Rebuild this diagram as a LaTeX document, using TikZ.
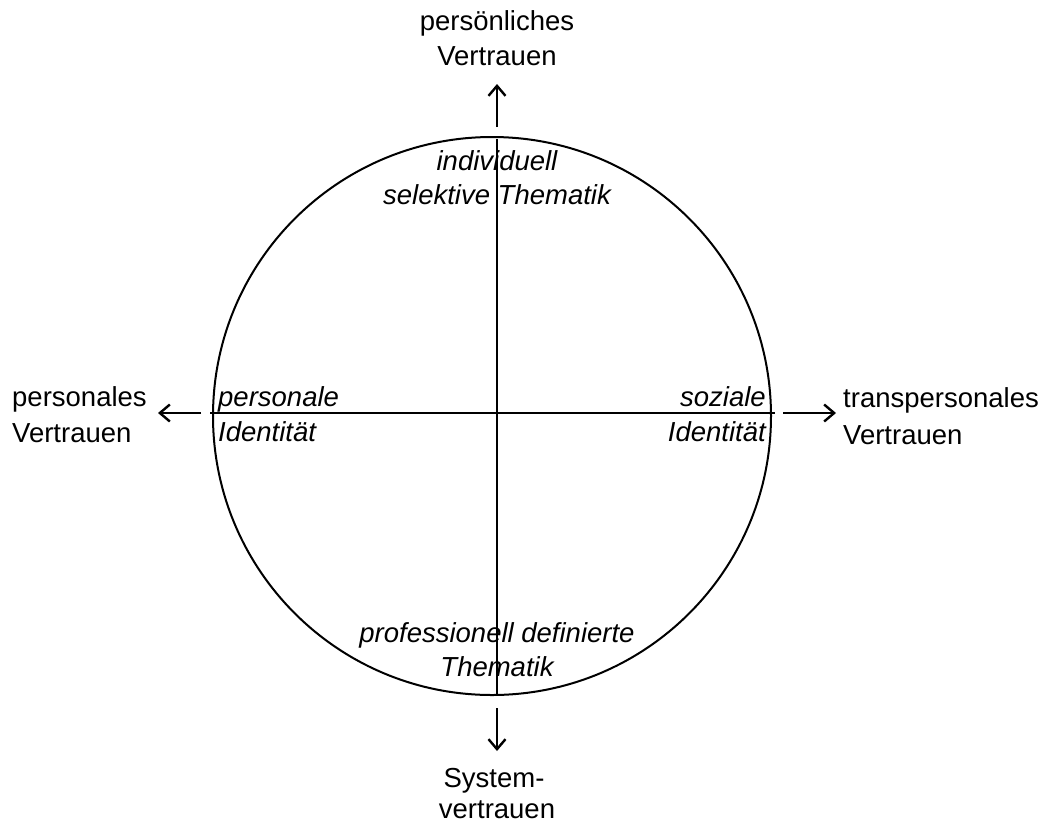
\documentclass[tikz,border=0pt]{standalone}
\usepackage{fontspec}
\setmainfont{Liberation Sans}
\usetikzlibrary{arrows.meta}
\tikzset{
  lbl/.style={inner sep=0pt, anchor=base, font=\fontsize{27.5}{36}\selectfont},
  ilbl/.style={lbl, font=\fontsize{27.5}{36}\selectfont\itshape},
  axis/.style={line width=1.8pt},
  ring/.style={line width=2pt},
  dirarrow/.style={line width=2.6pt, -{Straight Barb[length=10pt,width=17pt,line width=2.4pt]}}
}
\begin{document}
\begin{tikzpicture}[x=1pt,y=-1pt]
\useasboundingbox (0,0) rectangle (1045,823);
% circle and axes
\node[ring, draw, circle, minimum size=558pt, inner sep=0pt] (circ) at (492,416) {};
\coordinate (vtop) at (497,139);
\coordinate (vbot) at (497,694);
\coordinate (hleft) at (210,413);
\coordinate (hright) at (775,413);
\draw[axis] (vtop) -- (vbot);
\draw[axis] (hleft) -- (hright);
% direction arrows
\coordinate (up0) at (497,127);
\coordinate (up1) at (497,84);
\coordinate (dn0) at (497,708);
\coordinate (dn1) at (497,751);
\coordinate (lf0) at (201,413);
\coordinate (lf1) at (158,413);
\coordinate (rt0) at (783,413);
\coordinate (rt1) at (836,413);
\draw[dirarrow] (up0) -- (up1);
\draw[dirarrow] (dn0) -- (dn1);
\draw[dirarrow] (lf0) -- (lf1);
\draw[dirarrow] (rt0) -- (rt1);
% outer labels
\node[lbl] (top1) at (497,30) {persönliches};
\node[lbl] (top2) at (497,65) {Vertrauen};
\node[lbl, anchor=base west] (left1) at (12,406) {personales};
\node[lbl, anchor=base west] (left2) at (12,442) {Vertrauen};
\node[lbl, anchor=base west] (right1) at (843,407) {transpersonales};
\node[lbl, anchor=base west] (right2) at (843,444) {Vertrauen};
\node[lbl] (bot1) at (494,787) {System-};
\node[lbl] (bot2) at (497,818) {vertrauen};
% inner labels
\node[ilbl] (in1) at (497,170) {individuell};
\node[ilbl] (in2) at (497,204) {selektive Thematik};
\node[ilbl, anchor=base west] (il1) at (218,406) {personale};
\node[ilbl, anchor=base west] (il2) at (218,441) {Identität};
\node[ilbl, anchor=base east] (ir1) at (766,406) {soziale};
\node[ilbl, anchor=base east] (ir2) at (766,441) {Identität};
\node[ilbl] (ib1) at (497,642) {professionell definierte};
\node[ilbl] (ib2) at (497,676) {Thematik};
\end{tikzpicture}
\end{document}
